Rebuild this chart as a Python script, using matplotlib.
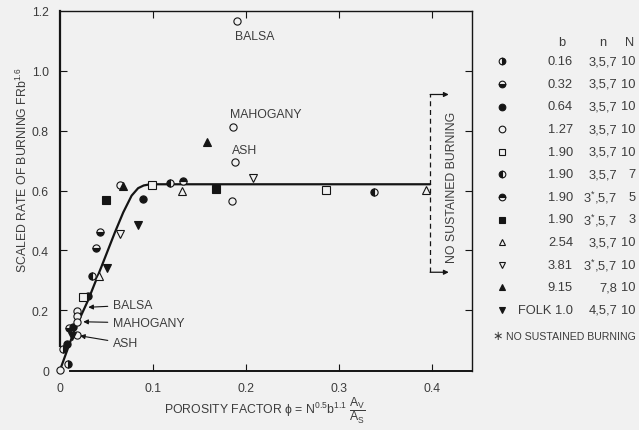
import matplotlib
matplotlib.use("Agg")
import matplotlib.pyplot as plt

# ---------------- data ----------------
b016_x = [0.009, 0.0035]
b016_y = [0.020, 0.070]
b032_x = [0.010, 0.0387, 0.043]
b032_y = [0.140, 0.408, 0.461]
b064_x = [0.008, 0.0143, 0.030, 0.089]
b064_y = [0.087, 0.144, 0.248, 0.572]
b127_x = [0.0, 0.018, 0.018, 0.018, 0.018, 0.0645, 0.185, 0.190, 0.186, 0.188]
b127_y = [0.0, 0.198, 0.180, 0.160, 0.118, 0.620, 0.566, 1.165, 0.813, 0.697]
b190n10_x = [0.025, 0.0986, 0.286]
b190n10_y = [0.243, 0.620, 0.603]
b190n7_x = [0.034, 0.118, 0.338]
b190n7_y = [0.315, 0.625, 0.594]
b190n5_x = [0.132]
b190n5_y = [0.633]
b190n3_x = [0.049, 0.168]
b190n3_y = [0.569, 0.605]
b254_x = [0.042, 0.131, 0.394]
b254_y = [0.313, 0.600, 0.603]
b381_x = [0.0645, 0.207]
b381_y = [0.455, 0.641]
b915_x = [0.068, 0.158]
b915_y = [0.616, 0.762]
folk_x = [0.0126, 0.050, 0.084]
folk_y = [0.115, 0.340, 0.485]

curve_x = [0.0, 0.016, 0.030, 0.045, 0.059, 0.068, 0.077, 0.084, 0.090, 0.097, 0.398]
curve_y = [0.0, 0.137, 0.232, 0.349, 0.460, 0.527, 0.583, 0.608, 0.617, 0.621, 0.621]

x_ticks = [0, 0.1, 0.2, 0.3, 0.4]
x_ticklabels = ["0", "0.1", "0.2", "0.3", "0.4"]
y_ticks = [0, 0.2, 0.4, 0.6, 0.8, 1.0, 1.2]
y_ticklabels = ["0", "0.2", "0.4", "0.6", "0.8", "1.0", "1.2"]

legend_b = ["0.16", "0.32", "0.64", "1.27", "1.90", "1.90", "1.90", "1.90",
            "2.54", "3.81", "9.15", "FOLK 1.0"]
legend_n = ["3,5,7", "3,5,7", "3,5,7", "3,5,7", "3,5,7", "3,5,7",
            "3$^{\\mathregular{*}}$,5,7", "3$^{\\mathregular{*}}$,5,7", "3,5,7",
            "3$^{\\mathregular{*}}$,5,7", "7,8", "4,5,7"]
legend_N = ["10", "10", "10", "10", "10", "7", "5", "3", "10", "10", "10", "10"]

# ---------------- style ----------------
FAM = ["Liberation Sans", "DejaVu Sans"]
plt.rcParams["font.family"] = FAM
plt.rcParams["mathtext.fontset"] = "custom"
plt.rcParams["mathtext.rm"] = "Liberation Sans"
plt.rcParams["mathtext.it"] = "Liberation Sans"
TXT = "#3c3c3c"
INK = "#151515"
BG = "#f1f1f1"
FS = 8.8
LFS = 9.3

series = [
    (b016_x, b016_y, dict(marker="o", fillstyle="right")),
    (b032_x, b032_y, dict(marker="o", fillstyle="bottom")),
    (b064_x, b064_y, dict(marker="o", fillstyle="full")),
    (b127_x, b127_y, dict(marker="o", fillstyle="none")),
    (b190n10_x, b190n10_y, dict(marker="s", fillstyle="none")),
    (b190n7_x, b190n7_y, dict(marker="o", fillstyle="left")),
    (b190n5_x, b190n5_y, dict(marker="o", fillstyle="top")),
    (b190n3_x, b190n3_y, dict(marker="s", fillstyle="full")),
    (b254_x, b254_y, dict(marker="^", fillstyle="none")),
    (b381_x, b381_y, dict(marker="v", fillstyle="none")),
    (b915_x, b915_y, dict(marker="^", fillstyle="full")),
    (folk_x, folk_y, dict(marker="v", fillstyle="full")),
]

def mstyle(st, ms=5.2):
    d = dict(st)
    d.update(color=INK, markerfacecoloralt=BG, markeredgecolor=INK,
             markeredgewidth=0.8, markersize=ms, linestyle="none")
    if d["fillstyle"] == "none":
        d["markerfacecolor"] = BG
        d["fillstyle"] = "full"
    else:
        d["markerfacecolor"] = INK
    return d

W, H = 639, 431
fig = plt.figure(figsize=(W / 100, H / 100), dpi=100, facecolor=BG)

L, R, T, B = 60, 472, 12, 372
ax = fig.add_axes([L / W, 1 - B / H, (R - L) / W, (B - T) / H])
ax.set_facecolor(BG)
ax.set_xlim(0.0, (R - L) / 930)
ax.set_ylim(-0.003, 1.2)

for s in ax.spines.values():
    s.set_color(INK)
    s.set_linewidth(1.0)
ax.spines["left"].set_linewidth(1.6)
ax.spines["left"].set_bounds(0.08, 1.2)
ax.spines["bottom"].set_linewidth(1.4)
ax.spines["bottom"].set_bounds(0.011, (R - L) / 930)

ax.set_xticks(x_ticks)
ax.set_xticklabels(x_ticklabels)
ax.set_yticks(y_ticks)
ax.set_yticklabels(y_ticklabels)
ax.tick_params(direction="in", length=5, width=0.8, color=INK,
               top=True, right=True, labelsize=FS, labelcolor=TXT)
ax.tick_params(axis="y", pad=8)
ax.tick_params(axis="x", pad=8)
for t in (ax.yaxis.get_major_ticks()[0], ax.yaxis.get_major_ticks()[-1],
          ax.xaxis.get_major_ticks()[0]):
    t.tick1line.set_visible(False)
    t.tick2line.set_visible(False)

# fitted curve
ax.plot(curve_x, curve_y, color=INK, lw=1.6, zorder=2,
        solid_capstyle="round", solid_joinstyle="round")

for xs, ys, st in series:
    ax.plot(xs, ys, zorder=3, clip_on=False, **mstyle(st))

# wood labels (upper)
ax.text(0.188, 1.117, "BALSA", color=TXT, fontsize=FS, va="center", ha="left")
ax.text(0.183, 0.856, "MAHOGANY", color=TXT, fontsize=FS, va="center", ha="left")
ax.text(0.185, 0.737, "ASH", color=TXT, fontsize=FS, va="center", ha="left")

# wood labels (lower) with arrows
arrow_kw = dict(arrowstyle="-|>", color=INK, lw=0.8, mutation_scale=7,
                shrinkA=2, shrinkB=0)
for lab, ty, tipx, tipy in [("BALSA", 0.217, 0.0304, 0.210),
                            ("MAHOGANY", 0.157, 0.025, 0.1615),
                            ("ASH", 0.089, 0.0215, 0.1147)]:
    ax.annotate(lab, xy=(tipx, tipy), xytext=(0.0573, ty), color=TXT,
                fontsize=FS, va="center", ha="left", arrowprops=arrow_kw)

# no sustained burning marker
ax.plot([0.398, 0.398], [0.327, 0.921], color=INK, lw=0.9,
        linestyle=(0, (4, 3)))
for yy in (0.921, 0.327):
    ax.annotate("", xy=(0.418, yy), xytext=(0.398, yy),
                arrowprops=dict(arrowstyle="-|>", color=INK, lw=0.9,
                                mutation_scale=7, shrinkA=0, shrinkB=0))
ax.text(0.4215, 0.615, "NO SUSTAINED BURNING", rotation=90, color=TXT,
        fontsize=FS, ha="center", va="center")

# axis labels
fig.text(22 / W, 1 - 170 / H, "SCALED RATE OF BURNING FRb$^{\\mathregular{1.6}}$",
         rotation=90, ha="center", va="center", color=TXT, fontsize=FS)
fig.text(265 / W, 1 - 411 / H,
         "POROSITY FACTOR $\\phi$ = N$^{\\mathregular{0.5}}$b$^{\\mathregular{1.1}}$ "
         "$\\dfrac{\\mathregular{A_V}}{\\mathregular{A_S}}$",
         ha="center", va="center", color=TXT, fontsize=FS)

# legend table (pixel-based overlay)
lax = fig.add_axes([0, 0, 1, 1], zorder=5)
lax.set_xlim(0, W)
lax.set_ylim(H, 0)
lax.axis("off")
lax.patch.set_alpha(0)
lax.text(562, 43, "b", ha="center", va="center", color=TXT, fontsize=LFS)
lax.text(603, 43, "n", ha="center", va="center", color=TXT, fontsize=LFS)
lax.text(630, 43, "N", ha="center", va="center", color=TXT, fontsize=LFS)
for i, (xs, ys, st) in enumerate(series):
    yy = 62.3 + i * 22.6
    lax.plot([502], [yy], **mstyle(st, ms=4.8))
    lax.text(573, yy, legend_b[i], ha="right", va="center", color=TXT, fontsize=LFS)
    lax.text(617, yy, legend_n[i], ha="right", va="center", color=TXT, fontsize=LFS)
    lax.text(636, yy, legend_N[i], ha="right", va="center", color=TXT, fontsize=LFS)
lax.text(492, 337, "\u2217", ha="left", va="center", color=TXT, fontsize=9)
lax.text(636, 337, "NO SUSTAINED BURNING", ha="right", va="center",
         color=TXT, fontsize=7.6)

fig.savefig("out.png", dpi=100, facecolor=BG)
